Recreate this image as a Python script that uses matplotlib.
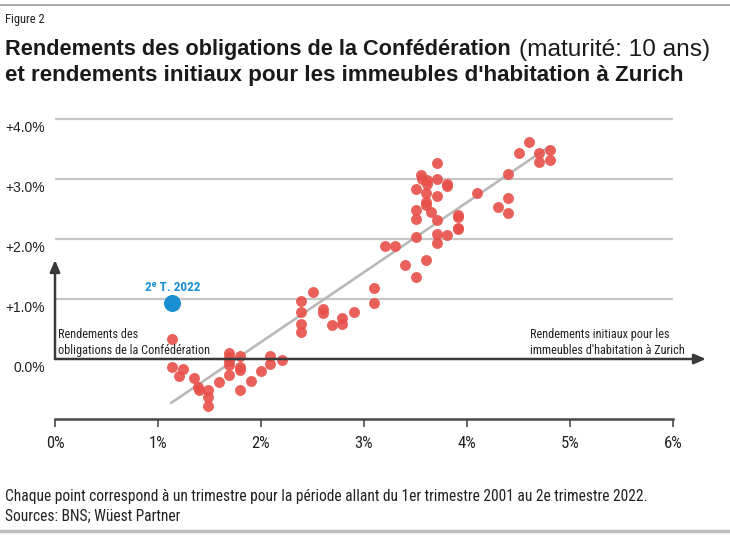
import numpy as np
import matplotlib.pyplot as plt
from matplotlib.transforms import ScaledTranslation

# rendements initiaux immeubles d'habitation Zurich (x) vs obligations Conf. 10 ans (y), en %
init_yield = [1.14, 1.14, 1.24, 1.20, 1.35, 1.39, 1.40, 1.49, 1.49, 1.49,
              1.59, 1.69, 1.69, 1.69, 1.69, 1.69, 1.80, 1.80, 1.80, 1.80,
              1.90, 2.00, 2.09, 2.09, 2.20,
              2.39, 2.39, 2.39, 2.39, 2.50, 2.60, 2.60, 2.69, 2.79, 2.79,
              2.90, 3.10, 3.10, 3.20, 3.30, 3.40, 3.50, 3.60,
              3.50, 3.50, 3.50, 3.50, 3.55, 3.56, 3.61, 3.61, 3.60, 3.60,
              3.60, 3.65, 3.71, 3.71, 3.71, 3.71, 3.71, 3.71, 3.81, 3.81,
              3.81, 3.91, 3.91, 3.91, 3.91, 4.10, 4.30, 4.40, 4.40, 4.40,
              4.50, 4.60, 4.70, 4.70, 4.81, 4.81]
bond_yield = [0.33, -0.14, -0.17, -0.29, -0.31, -0.46, -0.52, -0.52, -0.64, -0.78,
              -0.39, 0.10, 0.03, -0.04, -0.10, -0.26, 0.05, -0.13, -0.19, -0.51,
              -0.37, -0.20, 0.05, -0.09, -0.02,
              0.97, 0.78, 0.58, 0.45, 1.12, 0.83, 0.76, 0.56, 0.68, 0.58,
              0.78, 1.19, 0.93, 1.89, 1.88, 1.57, 1.36, 1.65,
              2.03, 2.33, 2.48, 2.84, 3.07, 3.00, 2.99, 2.92, 2.77, 2.62,
              2.57, 2.45, 3.27, 3.00, 2.72, 2.31, 2.08, 1.94, 2.92, 2.88,
              2.06, 2.40, 2.37, 2.19, 2.16, 2.77, 2.54, 3.08, 2.68, 2.43,
              3.44, 3.61, 3.44, 3.28, 3.49, 3.32]

# 2e trimestre 2022
last_x, last_y = 1.14, 0.93

# droite de tendance
trend_x = [1.13, 4.79]
trend_y = [-0.73, 3.53]

x_ticks = [0, 1, 2, 3, 4, 5, 6]
x_labels = ['0%', '1%', '2%', '3%', '4%', '5%', '6%']
y_ticks = [0, 1, 2, 3, 4]
y_labels = ['0.0%', '+1.0%', '+2.0%', '+3.0%', '+4.0%']

NARROW = ['Roboto Condensed', 'Roboto', 'DejaVu Sans']
REG = ['Liberation Sans', 'DejaVu Sans']
RED = '#e8504a'
BLUE = '#1a8fd2'
DARK = '#3a3a3a'

W, H = 730, 537
fig = plt.figure(figsize=(W / 100, H / 100), dpi=100)

# axes placed so that 0% -> x=55px, 103px per %, 0% -> y=359px, 60px per %
xmin, xmax = -0.05, 6.45
ymin, ymax = -1.05, 4.1
left = 55 + xmin * 103
right = 55 + xmax * 103
bottom = 359 - ymin * 60
top = 359 - ymax * 60
ax = fig.add_axes([left / W, 1 - bottom / H, (right - left) / W, (bottom - top) / H])
ax.set_xlim(xmin, xmax)
ax.set_ylim(ymin, ymax)

ax.hlines(y_ticks[1:], 0, 6, color='#c6c6c6', lw=1.6, zorder=1)
ax.plot(trend_x, trend_y, color='#b9b9b9', lw=1.9, zorder=2)
ax.scatter(init_yield, bond_yield, s=62, color=RED, alpha=0.9, lw=0, zorder=3)
ax.scatter([last_x], [last_y], s=150, color=BLUE, lw=0, zorder=3)

# axes with arrows
ax.annotate('', xy=(6.32, 0), xytext=(0, 0),
            arrowprops=dict(arrowstyle='-|>,head_length=0.7,head_width=0.3',
                            color=DARK, lw=1.8, shrinkA=0, shrinkB=0), zorder=4)
ax.annotate('', xy=(0, 1.65), xytext=(0, 0),
            arrowprops=dict(arrowstyle='-|>,head_length=0.7,head_width=0.3',
                            color=DARK, lw=1.8, shrinkA=0, shrinkB=0), zorder=4)

for s in ['left', 'top', 'right']:
    ax.spines[s].set_visible(False)
ax.spines['bottom'].set_position(('data', -1.0))
ax.spines['bottom'].set_bounds(0, 6)
ax.spines['bottom'].set_color('#4a4a4a')
ax.spines['bottom'].set_linewidth(1.8)

ax.set_xticks(x_ticks)
ax.set_xticklabels(x_labels, family=NARROW, fontsize=12, color='#222222')
ax.tick_params(axis='x', direction='out', length=6, width=1.2, color='#4a4a4a', pad=6)
ax.set_yticks(y_ticks)
ax.set_yticklabels(y_labels, family=REG, fontsize=10, color='#222222')
ax.tick_params(axis='y', length=0, pad=3.5)
for lab in ax.get_yticklabels():
    lab.set_transform(lab.get_transform() + ScaledTranslation(0, -8 / 100, fig.dpi_scale_trans))

ax.text(0.03, 0.03, 'Rendements des\nobligations de la Confédération', family=NARROW,
        fontsize=8.8, color='#222222', va='bottom', ha='left', linespacing=1.3)
ax.text(4.61, 0.03, "Rendements initiaux pour les\nimmeubles d'habitation à Zurich", family=NARROW,
        fontsize=8.8, color='#222222', va='bottom', ha='left', linespacing=1.3)
ax.text(last_x, 1.08, '2ᵉ T. 2022', family=NARROW, fontsize=9.5, color=BLUE,
        fontweight='bold', ha='center', va='bottom')

# header / footer
fig.add_artist(plt.Line2D([0, 1], [1 - 5 / H, 1 - 5 / H], color='#9a9a9a', lw=1.2))
fig.add_artist(plt.Line2D([0, 1], [1 - 531 / H, 1 - 531 / H], color='#bdbdbd', lw=2.5))
fig.text(5 / W, 1 - 20 / H, 'Figure 2', family=NARROW, fontsize=9, color='#222222', va='center')
t1 = fig.text(5 / W, 1 - 50 / H, 'Rendements des obligations de la Confédération', family=REG,
              fontsize=15.7, fontweight='bold', color='#1a1a1a', va='center')
fig.text(5 / W, 1 - 75 / H, "et rendements initiaux pour les immeubles d'habitation à Zurich", family=REG,
         fontsize=16.1, fontweight='bold', color='#1a1a1a', va='center')
fig.canvas.draw()
bb = t1.get_window_extent()
fig.text((bb.x1 + 8) / W, 1 - 50 / H, '(maturité: 10 ans)', family=REG,
         fontsize=17.6, color='#1a1a1a', va='center')
fig.text(5 / W, 1 - 496 / H,
         'Chaque point correspond à un trimestre pour la période allant du 1er trimestre 2001 au 2e trimestre 2022.',
         family=NARROW, fontsize=11.2, color='#222222', va='center')
fig.text(5 / W, 1 - 516 / H, 'Sources: BNS; Wüest Partner', family=NARROW, fontsize=11.2,
         color='#222222', va='center')

fig.savefig('out.png', dpi=100)
